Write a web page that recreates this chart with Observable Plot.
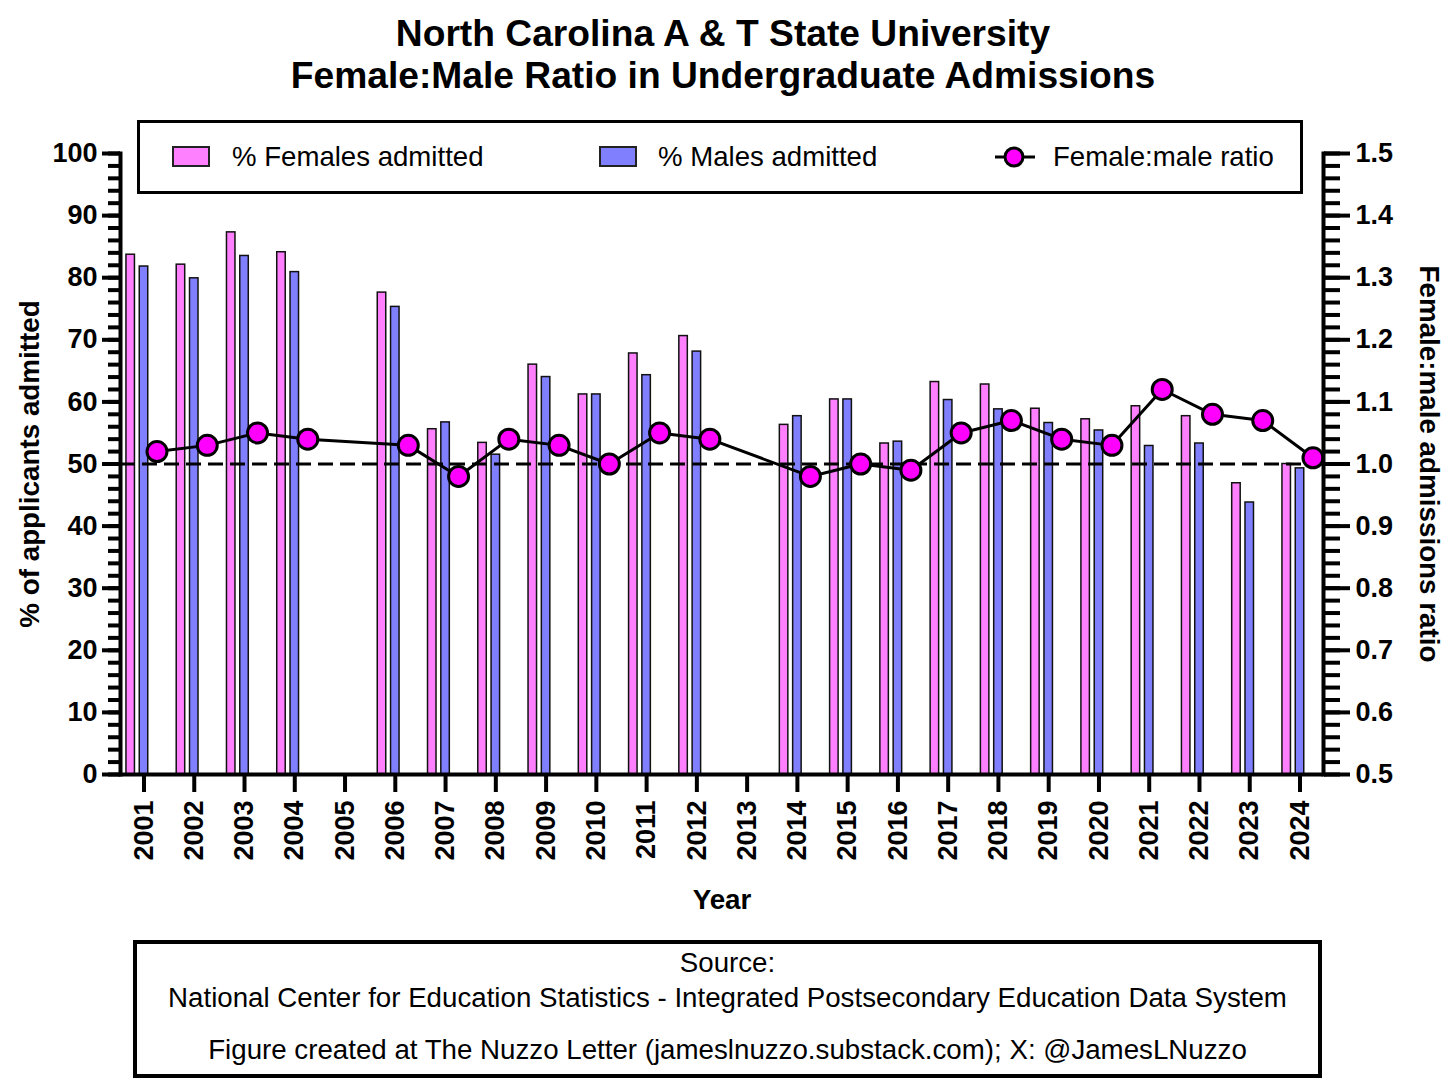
<!DOCTYPE html>
<html>
<head>
<meta charset="utf-8">
<script src="https://cdn.jsdelivr.net/npm/d3@7"></script>
<script src="https://cdn.jsdelivr.net/npm/@observablehq/plot@0.6"></script>
<style>
  html, body { margin: 0; padding: 0; background: #fff; }
  #wrap { position: relative; width: 1456px; height: 1082px; background: #fff; font-family: "Liberation Sans", Arial, sans-serif; color: #000; overflow: hidden; }
  #chart { position: absolute; left: 0; top: 0; }
  .title { position: absolute; left: 0; width: 1446px; text-align: center; font-weight: bold; font-size: 37.2px; line-height: 42px; }
  #legend { position: absolute; left: 137px; top: 120px; width: 1166px; height: 74px; border: 3px solid #000; box-sizing: border-box; background: #fff; }
  .sw { position: absolute; width: 38px; height: 21px; border: 2px solid #222; box-sizing: border-box; }
  .lt { position: absolute; font-size: 27.6px; line-height: 30px; white-space: nowrap; }
  #source { position: absolute; left: 133px; top: 940px; width: 1189px; height: 138px; border: 4px solid #000; box-sizing: border-box; background: #fff; }
  .st { position: absolute; left: 0; width: 100%; text-align: center; font-size: 27.7px; line-height: 30px; white-space: nowrap; }
</style>
</head>
<body>
<div id="wrap">
  <div id="chart"></div>
  <div class="title" id="t1" style="top:12px"></div>
  <div class="title" id="t2" style="top:54px"></div>
  <div id="legend"></div>
  <div id="source"></div>
</div>
<script>
// ---- data ----
const years = ["2001","2002","2003","2004","2005","2006","2007","2008","2009","2010","2011","2012","2013","2014","2015","2016","2017","2018","2019","2020","2021","2022","2023","2024"];
const femalePct = [83.7, 82.1, 87.3, 84.1, null, 77.6, 55.6, 53.4, 66.0, 61.2, 67.8, 70.6, null, 56.3, 60.4, 53.3, 63.2, 62.8, 58.9, 57.2, 59.3, 57.7, 46.9, 50.0];
const malePct   = [81.8, 79.9, 83.5, 80.9, null, 75.3, 56.7, 51.5, 64.0, 61.2, 64.3, 68.1, null, 57.7, 60.4, 53.6, 60.3, 58.8, 56.6, 55.4, 52.9, 53.3, 43.8, 49.3];
const ratio     = [1.02, 1.03, 1.05, 1.04, null, 1.03, 0.98, 1.04, 1.03, 1.00, 1.05, 1.04, null, 0.98, 1.00, 0.99, 1.05, 1.07, 1.04, 1.03, 1.12, 1.08, 1.07, 1.01];

const leftDomain = [0, 100];
const rightDomain = [0.5, 1.5];
const leftTicks = [0, 10, 20, 30, 40, 50, 60, 70, 80, 90, 100];
const leftTickLabels = ["0","10","20","30","40","50","60","70","80","90","100"];
const rightTickLabels = ["0.5","0.6","0.7","0.8","0.9","1.0","1.1","1.2","1.3","1.4","1.5"];
const referenceRatio = 1.0;

const titleLines = ["North Carolina A & T State University", "Female:Male Ratio in Undergraduate Admissions"];
const legendLabels = ["% Females admitted", "% Males admitted", "Female:male ratio"];
const yLabelLeft = "% of applicants admitted";
const yLabelRight = "Female:male admissions ratio";
const xLabel = "Year";
const sourceLines = ["Source:", "National Center for Education Statistics - Integrated Postsecondary Education Data System", "Figure created at The Nuzzo Letter (jameslnuzzo.substack.com); X: @JamesLNuzzo"];

const colorFemale = "#FF80FF";
const colorMale = "#8080FF";
const colorRatio = "#FF00FF";

// ---- derived ----
const toLeft = r => (r - rightDomain[0]) / (rightDomain[1] - rightDomain[0]) * (leftDomain[1] - leftDomain[0]) + leftDomain[0];
const rows = years.map((y, i) => ({year: y, female: femalePct[i], male: malePct[i], ratio: ratio[i]}));
const barRows = rows.filter(d => d.female != null);
const ratioRows = rows.filter(d => d.ratio != null).map(d => ({...d, r: toLeft(d.ratio)}));
const minorTicks = d3.range(leftDomain[0], leftDomain[1] + 0.001, 2);

const chart = Plot.plot({
  width: 1456,
  height: 930,
  marginLeft: 120,
  marginRight: 133,
  marginTop: 153,
  marginBottom: 156,
  x: {type: "band", domain: years, paddingInner: 0.831, paddingOuter: 0.383, round: false},
  y: {domain: leftDomain},
  style: {fontFamily: "'Liberation Sans', Arial, sans-serif", fontSize: "27px", fontWeight: "bold", color: "#000", background: "#fff", overflow: "visible"},
  marks: [
    Plot.barY(barRows, {x: "year", y: "female", fill: colorFemale, stroke: "#111", strokeWidth: 1.5, dx: -13.3}),
    Plot.barY(barRows, {x: "year", y: "male", fill: colorMale, stroke: "#111", strokeWidth: 1.5}),
    Plot.ruleY([toLeft(referenceRatio)], {stroke: "#000", strokeWidth: 3, strokeDasharray: "15,7"}),
    Plot.line(ratioRows, {x: "year", y: "r", dx: 13, stroke: "#000", strokeWidth: 3}),
    Plot.dot(ratioRows, {x: "year", y: "r", dx: 13, r: 10, fill: colorRatio, stroke: "#000", strokeWidth: 3}),
    Plot.ruleY([leftDomain[0]], {stroke: "#000", strokeWidth: 4}),
    Plot.frame({anchor: "left", stroke: "#000", strokeWidth: 4}),
    Plot.frame({anchor: "right", stroke: "#000", strokeWidth: 4}),
    Plot.axisX({tickRotate: -90, tickSize: 18, tickPadding: 8, strokeWidth: 4, label: null}),
    Plot.axisY({ticks: minorTicks, tickFormat: () => "", tickSize: 12, strokeWidth: 4, label: null}),
    Plot.axisY({ticks: leftTicks, tickFormat: d => leftTickLabels[leftTicks.indexOf(d)], tickSize: 18, tickPadding: 5, strokeWidth: 4, label: null}),
    Plot.axisY({anchor: "right", ticks: minorTicks, tickFormat: () => "", tickSize: 16, strokeWidth: 4, label: null}),
    Plot.axisY({anchor: "right", ticks: leftTicks, tickFormat: d => rightTickLabels[leftTicks.indexOf(d)], tickSize: 26, tickPadding: 6, strokeWidth: 4, label: null}),
    Plot.text([yLabelLeft], {text: d => d, frameAnchor: "left", dx: -90, rotate: -90, textAnchor: "middle", lineAnchor: "middle", fontSize: 27.8}),
    Plot.text([yLabelRight], {text: d => d, frameAnchor: "right", dx: 105, rotate: 90, textAnchor: "middle", lineAnchor: "middle", fontSize: 27.8}),
    Plot.text([xLabel], {text: d => d, frameAnchor: "bottom", dy: 126, textAnchor: "middle", lineAnchor: "middle", fontSize: 27.8})
  ]
});
document.getElementById("chart").appendChild(chart);

// ---- titles ----
document.getElementById("t1").textContent = titleLines[0];
document.getElementById("t2").textContent = titleLines[1];

// ---- legend ----
const legend = document.getElementById("legend");
function add(parent, cls, style, text) {
  const el = document.createElement("div");
  el.className = cls;
  el.setAttribute("style", style);
  if (text != null) el.textContent = text;
  parent.appendChild(el);
  return el;
}
// legend box origin at (137,120) page; border 3px -> inner origin (140,123)
add(legend, "sw", `left:${172-140}px; top:${146-123}px; background:${colorFemale}`);
add(legend, "lt", `left:${232-140}px; top:${142-123}px`, legendLabels[0]);
add(legend, "sw", `left:${599-140}px; top:${146-123}px; background:${colorMale}`);
add(legend, "lt", `left:${658-140}px; top:${142-123}px`, legendLabels[1]);
const sym = document.createElementNS("http://www.w3.org/2000/svg", "svg");
sym.setAttribute("width", "44"); sym.setAttribute("height", "26");
sym.setAttribute("style", `position:absolute; left:${993-140}px; top:${144-123}px`);
sym.innerHTML = `<line x1="2" y1="13" x2="42" y2="13" stroke="#000" stroke-width="3"/><circle cx="21" cy="13" r="9" fill="${colorRatio}" stroke="#000" stroke-width="3"/>`;
legend.appendChild(sym);
add(legend, "lt", `left:${1053-140}px; top:${142-123}px`, legendLabels[2]);

// ---- source box ----
const source = document.getElementById("source");
add(source, "st", `top:${948-944}px`, sourceLines[0]);
add(source, "st", `top:${983-944}px`, sourceLines[1]);
add(source, "st", `top:${1035-944}px`, sourceLines[2]);
</script>
</body>
</html>
